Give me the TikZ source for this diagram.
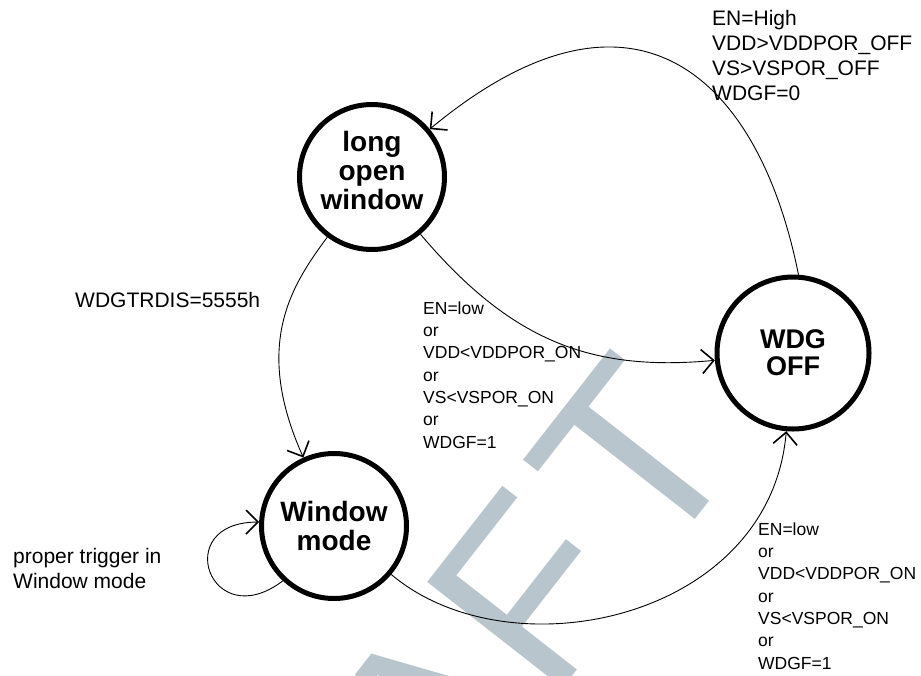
\documentclass[tikz,border=0pt]{standalone}
\usepackage{fontspec}
\setmainfont{Liberation Sans}
\usetikzlibrary{arrows.meta}
\definecolor{draftgray}{RGB}{185,197,204}

\begin{document}
\begin{tikzpicture}[x=1pt, y=-1pt,
  state/.style={draw, circle, line width=5pt, fill=white, inner sep=0pt, align=center,
    minimum size=145pt, font=\bfseries\fontsize{28}{29}\selectfont},
  trans/.style={line width=0.9pt, -{Straight Barb[length=12pt, width=24pt, line width=1.6pt]}},
  cond/.style={anchor=base west, align=left, inner sep=0pt, font=\fontsize{17.5}{22.3}\selectfont},
  note/.style={anchor=base west, align=left, inner sep=0pt, font=\fontsize{21}{25}\selectfont}]
\useasboundingbox (0,0) rectangle (921,675);
\clip (0,0) rectangle (921,675);
% watermark
\node[rotate=52, anchor=base west, inner sep=0pt, text=draftgray,
  font=\fontsize{250}{250}\selectfont] (draft) at (225,1121) {DRAF\kern18pt T};
% states
\node[state, text depth=13pt] (long) at (372,177) {long\\open\\window};
\node[state] (win) at (334,526) {Window\\mode};
\node[state, minimum size=152pt, font=\bfseries\fontsize{27}{27}\selectfont] (off) at (793,353) {WDG\\OFF};
% transitions
\path[draw, trans] (off.86) .. controls (759,77) and (635,-41) .. (long);
\path[draw, trans] (long) .. controls (510,340) and (590,372) .. (off);
\path[draw, trans] (long) .. controls (291,286) and (253,345) .. (win);
\path[draw, trans] (win) .. controls (510,675) and (770,620) .. (off);
\path[draw, trans] (win.227) .. controls (210,636) and (170,522) .. (win.177);
% conditions (placed by the baseline of their last line)
\node[note] (highcond) at (712,100) {EN=High\\VDD>VDDPOR\_OFF\\VS>VSPOR\_OFF\\WDGF=0};
\node[note] (trdis) at (75,307) {WDGTRDIS=5555h};
\node[cond] (lowcond1) at (423,448) {EN=low\\or\\VDD<VDDPOR\_ON\\or\\VS<VSPOR\_ON\\or\\WDGF=1};
\node[cond] (lowcond2) at (758,669) {EN=low\\or\\VDD<VDDPOR\_ON\\or\\VS<VSPOR\_ON\\or\\WDGF=1};
\node[note] (trig) at (13,588) {proper trigger in\\Window mode};
\end{tikzpicture}
\end{document}
